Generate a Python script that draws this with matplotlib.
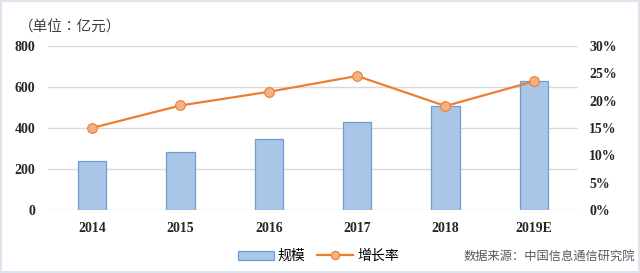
import matplotlib
matplotlib.use("Agg")
import matplotlib.pyplot as plt
from matplotlib.patches import Rectangle
from matplotlib.lines import Line2D
from matplotlib.ticker import FuncFormatter

# 数据
years = ["2014", "2015", "2016", "2017", "2018", "2019E"]
scale = [239, 283, 345, 428, 509, 631]          # 规模,亿元
growth = [15.0, 19.1, 21.6, 24.5, 19.0, 23.5]   # 增长率,%
left_ticks = [0, 200, 400, 600, 800]
right_ticks = [0, 5, 10, 15, 20, 25, 30]

CJK = ["Noto Sans CJK SC", "DejaVu Sans"]
SERIF = "Liberation Serif"

fig = plt.figure(figsize=(6.4, 2.73), dpi=100)
fig.patches.append(Rectangle((0.002, 0.004), 0.996, 0.992, transform=fig.transFigure,
                             fill=False, edgecolor="#dbe4ef", lw=1.5))

ax = fig.add_axes([0.075, 0.231, 0.828, 0.601])
x = range(len(years))
ax.bar(x, scale, width=0.32, color="#a9c6e9", edgecolor="#6f9cd3", lw=0.9, zorder=3)
ax.set_ylim(0, 800)
ax.set_xlim(-0.5, len(years) - 0.5)
ax.set_yticks(left_ticks)
ax.set_xticks(list(x))
ax.set_xticklabels(years)
ax.grid(axis="y", color="#d9d9d9", lw=1.0, zorder=0)
for s in ax.spines.values():
    s.set_visible(False)
ax.tick_params(length=0)
ax.tick_params(axis="y", pad=9)
ax.tick_params(axis="x", pad=9)
for lab in ax.get_xticklabels() + ax.get_yticklabels():
    lab.set_fontfamily(SERIF)
    lab.set_fontsize(10)
    lab.set_fontweight("bold")
    lab.set_color("#262626")

ax2 = ax.twinx()
ax2.plot(list(x), growth, color="#ed7d31", lw=1.6, marker="o", ms=7,
         mfc="#f4b183", mec="#ed7d31", mew=0.8, zorder=4)
ax2.set_ylim(0, 30)
ax2.set_yticks(right_ticks)
ax2.yaxis.set_major_formatter(FuncFormatter(lambda v, p: f"{v:.0f}%"))
for s in ax2.spines.values():
    s.set_visible(False)
ax2.tick_params(length=0, pad=8)
for lab in ax2.get_yticklabels():
    lab.set_fontfamily(SERIF)
    lab.set_fontsize(10)
    lab.set_fontweight("bold")
    lab.set_color("#262626")

# 标题用 TC 字形,冒号居中
fig.text(0.03, 0.90, "（单位：亿元）", family=["Noto Sans CJK TC", "DejaVu Sans"],
         fontsize=10.5, color="#404040", va="center", ha="left")

handles = [
    Rectangle((0, 0), 1, 1, facecolor="#a9c6e9", edgecolor="#6f9cd3", lw=0.9),
    Line2D([], [], color="#ed7d31", lw=1.6, marker="o", ms=6,
           mfc="#f4b183", mec="#ed7d31", mew=0.8),
]
fig.legend(handles, ["规模", "增长率"], loc="center", bbox_to_anchor=(0.497, 0.062),
           ncol=2, frameon=False, prop={"family": CJK, "size": 10},
           handlelength=2.6, handleheight=0.6, columnspacing=0.8, handletextpad=0.3)

fig.text(0.992, 0.062, "数据来源：中国信息通信研究院", family=CJK, fontsize=8.8,
         color="#595959", ha="right", va="center")

fig.savefig("out.png", dpi=100)
